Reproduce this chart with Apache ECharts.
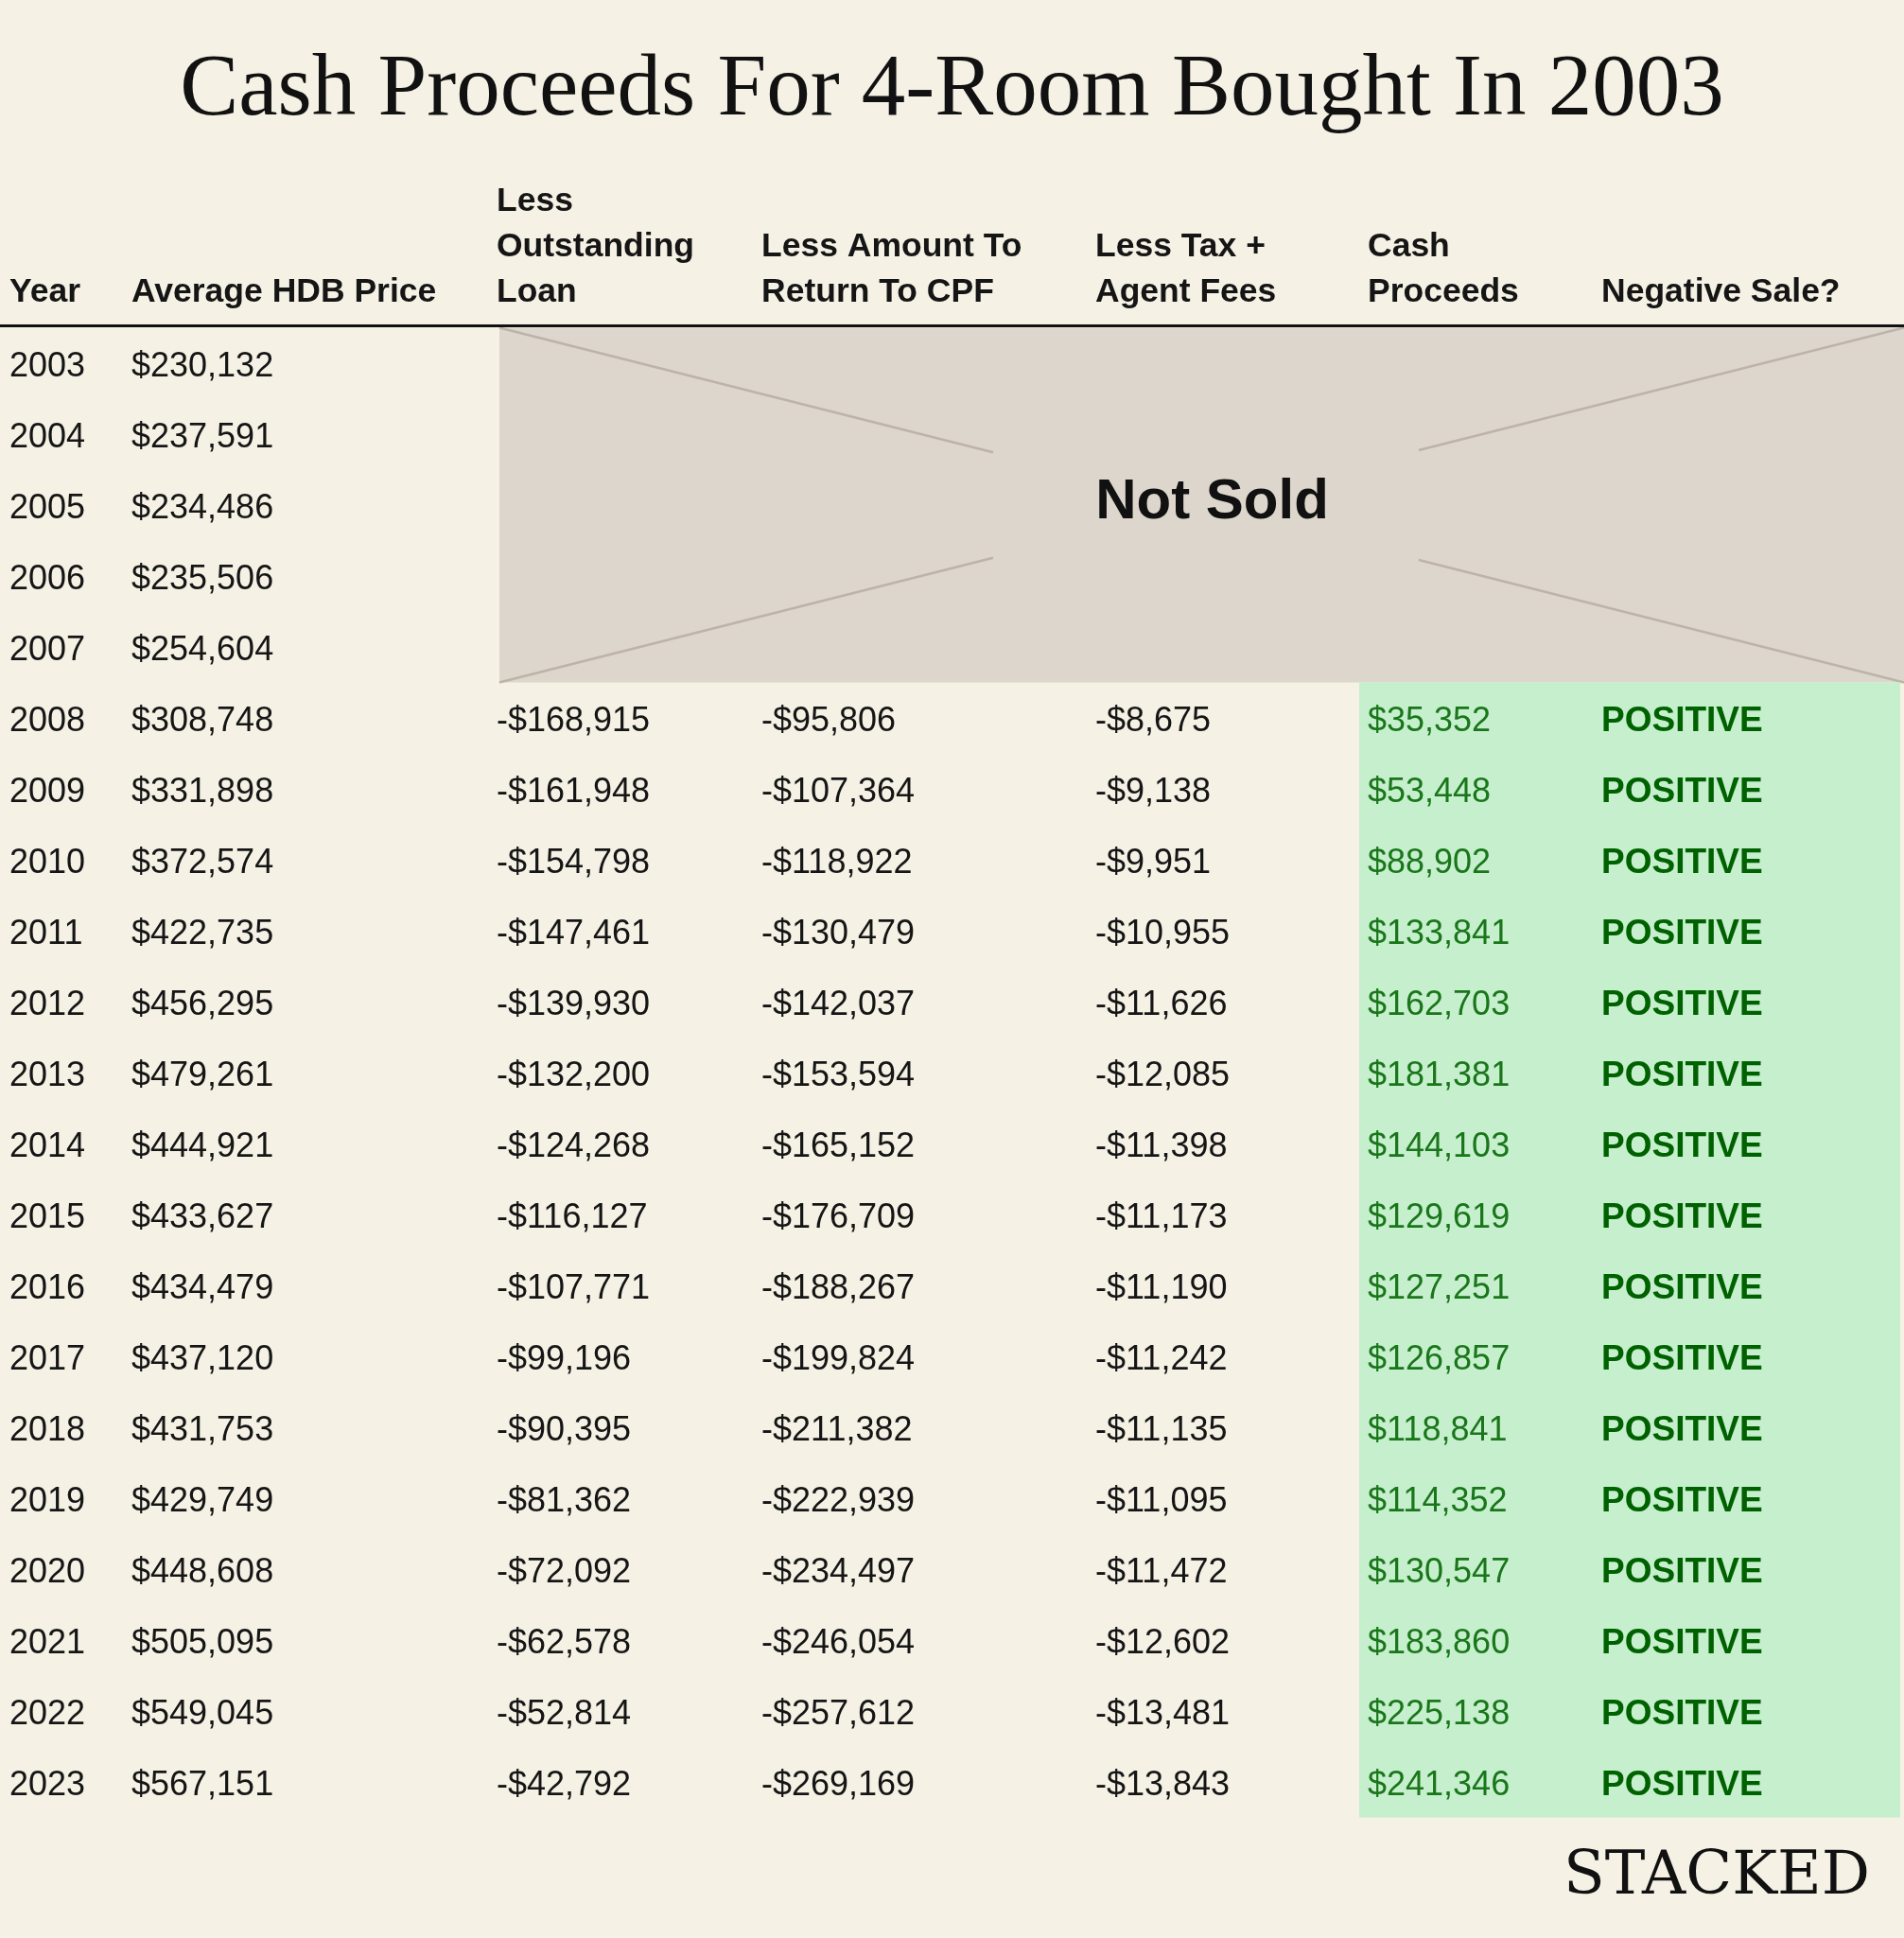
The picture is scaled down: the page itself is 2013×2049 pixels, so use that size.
<!DOCTYPE html>
<html>
<head>
<meta charset="utf-8">
<script src="https://cdn.jsdelivr.net/npm/echarts@6/dist/echarts.min.js"></script>
<style>
  html, body { margin: 0; padding: 0; background: #F5F1E5; }
  #chart { width: 2013px; height: 2049px; }
</style>
</head>
<body>
<div id="chart"></div>
<script>
// ---------------- DATA ----------------
const titleText = 'Cash Proceeds For 4-Room Bought In 2003';
const brandText = 'STACKED';
const headers = ['Year', 'Average HDB Price', 'Less\nOutstanding\nLoan', 'Less Amount To\nReturn To CPF', 'Less Tax +\nAgent Fees', 'Cash\nProceeds', 'Negative Sale?'];
const years = ['2003','2004','2005','2006','2007','2008','2009','2010','2011','2012','2013','2014','2015','2016','2017','2018','2019','2020','2021','2022','2023'];
const avgPrice = [230132, 237591, 234486, 235506, 254604, 308748, 331898, 372574, 422735, 456295, 479261, 444921, 433627, 434479, 437120, 431753, 429749, 448608, 505095, 549045, 567151];
const notSoldYears = ['2003','2004','2005','2006','2007'];
const notSoldLabel = 'Not Sold';
// values for sold years (2008-2023)
const outstandingLoan = [-168915, -161948, -154798, -147461, -139930, -132200, -124268, -116127, -107771, -99196, -90395, -81362, -72092, -62578, -52814, -42792];
const returnToCPF = [-95806, -107364, -118922, -130479, -142037, -153594, -165152, -176709, -188267, -199824, -211382, -222939, -234497, -246054, -257612, -269169];
const taxAgentFees = [-8675, -9138, -9951, -10955, -11626, -12085, -11398, -11173, -11190, -11242, -11135, -11095, -11472, -12602, -13481, -13843];
const cashProceeds = [35352, 53448, 88902, 133841, 162703, 181381, 144103, 129619, 127251, 126857, 118841, 114352, 130547, 183860, 225138, 241346];
const negativeSale = ['POSITIVE','POSITIVE','POSITIVE','POSITIVE','POSITIVE','POSITIVE','POSITIVE','POSITIVE','POSITIVE','POSITIVE','POSITIVE','POSITIVE','POSITIVE','POSITIVE','POSITIVE','POSITIVE'];

// ---------------- LAYOUT / STYLE ----------------
const W = 2013;
const colX = [10, 139, 525, 805, 1158, 1446, 1693];   // left edge of each column text
const grayBoxX = [528, 2013];
const greenBoxX = [1437, 2009];
const rowCats = ['header'].concat(years);
const SANS = '"Liberation Sans", Arial, Helvetica, sans-serif';
const SERIF = '"Liberation Serif", "Times New Roman", serif';
const BODY_SIZE = 36, HEAD_SIZE = 35.5, HEAD_LH = 48, BODY_DY = 4;
const TEXT = '#151515';
const CASH_GREEN = '#1a761a';
const POS_GREEN = '#006100';

function fmt(v) {
  const s = '$' + Math.abs(v).toLocaleString('en-US');
  return v < 0 ? '-' + s : s;
}

// build cell list: [col, rowCategory, text, kind]
const cells = [];
years.forEach((y, i) => {
  cells.push([0, y, y, 'body']);
  cells.push([1, y, fmt(avgPrice[i]), 'body']);
});
const soldYears = years.filter(y => notSoldYears.indexOf(y) < 0);
soldYears.forEach((y, i) => {
  cells.push([2, y, fmt(outstandingLoan[i]), 'body']);
  cells.push([3, y, fmt(returnToCPF[i]), 'body']);
  cells.push([4, y, fmt(taxAgentFees[i]), 'body']);
  cells.push([5, y, fmt(cashProceeds[i]), 'cash']);
  cells.push([6, y, negativeSale[i], 'pos']);
});
const headerCells = headers.map((h, c) => [c, 'header', h]);

const chart = echarts.init(document.getElementById('chart'), null, { renderer: 'canvas' });

function bandRect(api, x0, x1, r0, r1) {
  const p0 = api.coord([x0, r0]);
  const p1 = api.coord([x1, r1]);
  const bh = api.size([0, 1])[1];
  return { x: p0[0], y: p0[1] - bh / 2, width: p1[0] - p0[0], height: p1[1] - p0[1] + bh };
}

const option = {
  backgroundColor: '#F5F1E5',
  animation: false,
  title: [
    {
      text: titleText, left: 'center', top: 45,
      textStyle: { fontFamily: SERIF, fontSize: 93, fontWeight: 'normal', color: '#111' }
    },
    {
      text: brandText, right: 31, top: 1948,
      textStyle: { fontFamily: '"DejaVu Serif", serif', fontSize: 64, fontWeight: 'normal', color: '#111' }
    }
  ],
  grid: { left: 0, width: W, top: 271.5, height: 75 * rowCats.length },
  xAxis: { type: 'value', min: 0, max: W, show: false },
  yAxis: { type: 'category', data: rowCats, inverse: true, show: false },
  series: [
    {
      // shaded regions: "Not Sold" block and positive block
      type: 'custom',
      silent: true,
      data: [[0], [1]],
      renderItem: function (params, api) {
        const idx = api.value(0);
        if (idx === 0) {
          const r = bandRect(api, grayBoxX[0], grayBoxX[1], notSoldYears[0], notSoldYears[notSoldYears.length - 1]);
          const g0 = 0.3515, g1 = 0.6545;
          const lx = t => r.x + r.width * t;
          const lyTop = t => r.y + r.height * t;
          const lyBot = t => r.y + r.height * (1 - t);
          const lineStyle = { stroke: '#BDB3A8', lineWidth: 2.5 };
          return {
            type: 'group',
            children: [
              { type: 'rect', shape: r, style: { fill: '#DDD6CC' } },
              { type: 'line', shape: { x1: lx(0), y1: lyTop(0), x2: lx(g0), y2: lyTop(g0) }, style: lineStyle },
              { type: 'line', shape: { x1: lx(g1), y1: lyTop(g1), x2: lx(1), y2: lyTop(1) }, style: lineStyle },
              { type: 'line', shape: { x1: lx(0), y1: lyBot(0), x2: lx(g0), y2: lyBot(g0) }, style: lineStyle },
              { type: 'line', shape: { x1: lx(g1), y1: lyBot(g1), x2: lx(1), y2: lyBot(1) }, style: lineStyle },
              {
                type: 'text',
                style: {
                  text: notSoldLabel, x: r.x + r.width / 2 + 11, y: r.y + r.height / 2 - 3,
                  align: 'center', verticalAlign: 'middle',
                  fontFamily: SANS, fontWeight: 'bold', fontSize: 60, fill: '#111'
                }
              }
            ]
          };
        } else {
          const r = bandRect(api, greenBoxX[0], greenBoxX[1], soldYears[0], soldYears[soldYears.length - 1]);
          return { type: 'rect', shape: r, style: { fill: '#C6EFCE' } };
        }
      }
    },
    {
      // header text + rule
      type: 'custom',
      silent: true,
      data: headerCells,
      renderItem: function (params, api) {
        const c = api.value(0);
        const p = api.coord([colX[c], 'header']);
        const bh = api.size([0, 1])[1];
        const children = [{
          type: 'text',
          style: {
            text: headers[c], x: p[0], y: p[1] + HEAD_LH / 2,
            align: 'left', verticalAlign: 'bottom', lineHeight: HEAD_LH,
            fontFamily: SANS, fontWeight: 'bold', fontSize: HEAD_SIZE, fill: TEXT
          }
        }];
        if (c === 0) {
          const y = p[1] + bh / 2 - 2;
          children.push({
            type: 'line',
            shape: { x1: 0, y1: y, x2: api.coord([W, 'header'])[0], y2: y },
            style: { stroke: '#111', lineWidth: 3 }
          });
        }
        return { type: 'group', children: children };
      }
    },
    {
      // body cells
      type: 'custom',
      silent: true,
      data: cells,
      renderItem: function (params, api) {
        const d = cells[params.dataIndex];
        const p = api.coord([colX[d[0]], d[1]]);
        const kind = d[3];
        return {
          type: 'text',
          style: {
            text: d[2], x: p[0], y: p[1] + BODY_DY,
            align: 'left', verticalAlign: 'middle',
            fontFamily: SANS,
            fontWeight: kind === 'pos' ? 'bold' : 'normal',
            fontSize: kind === 'pos' ? 37 : BODY_SIZE,
            fill: kind === 'cash' ? CASH_GREEN : (kind === 'pos' ? POS_GREEN : TEXT)
          }
        };
      }
    }
  ]
};
chart.setOption(option);
</script>
</body>
</html>
